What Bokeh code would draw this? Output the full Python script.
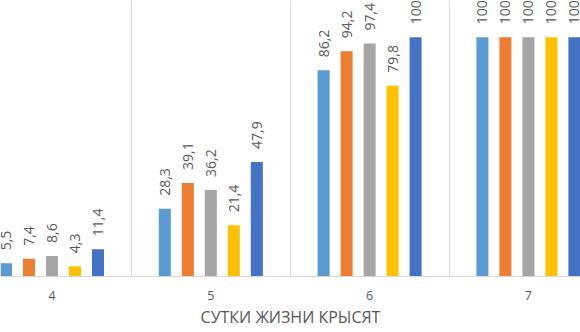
from math import pi
from bokeh.plotting import figure
from bokeh.models import ColumnDataSource, LabelSet, FixedTicker, Range1d
from bokeh.core.properties import value
from bokeh.transform import dodge
from bokeh.embed import file_html
from bokeh.resources import INLINE

# ---- data ----
days = ["4", "5", "6", "7"]
series_1 = [5.5, 28.3, 86.2, 100]
series_2 = [7.4, 39.1, 94.2, 100]
series_3 = [8.6, 36.2, 97.4, 100]
series_4 = [4.3, 21.4, 79.8, 100]
series_5 = [11.4, 47.9, 100, 100]
x_title = "СУТКИ ЖИЗНИ КРЫСЯТ"

all_series = [series_1, series_2, series_3, series_4, series_5]
colors = ["#5B9BD5", "#ED7D31", "#A5A5A5", "#FFC000", "#4472C4"]

FONT = "Open Sans"
TXT = "#595959"
GRID = "#D9D9D9"

idx = list(range(len(days)))

p = figure(width=580, height=332, output_backend="svg", toolbar_location=None,
           x_range=Range1d(-0.3243, 3.328), y_range=Range1d(0, 115.4),
           y_axis_location=None, min_border=0, min_border_bottom=56)
p.outline_line_color = None
p.background_fill_color = "white"
p.border_fill_color = "white"

step = 0.1448
bw = 0.0756
offsets = [-2 * step, -step, 0, step, 2 * step]

for vals, col, off in zip(all_series, colors, offsets):
    src = ColumnDataSource(dict(
        x=idx, top=vals,
        label=[("%g" % v).replace(".", ",") for v in vals]))
    p.vbar(x=dodge("x", off, range=p.x_range), top="top", bottom=0, width=bw,
           source=src, fill_color=col, line_color=None)
    labels = LabelSet(x=dodge("x", off, range=p.x_range), y="top", text="label",
                      source=src, angle=pi / 2, text_align="left",
                      text_baseline="middle", y_offset=13,
                      text_font=value(FONT), text_font_size="14px",
                      text_color=TXT)
    p.add_layout(labels)

p.ygrid.visible = False
p.xgrid.ticker = FixedTicker(ticks=[i + 0.5 for i in idx[:-1]])
p.xgrid.grid_line_color = GRID
p.xgrid.grid_line_width = 1

ax = p.xaxis[0]
ax.ticker = FixedTicker(ticks=idx)
ax.major_label_overrides = {i: d for i, d in zip(idx, days)}
ax.axis_line_color = GRID
ax.axis_line_width = 1
ax.major_tick_line_color = None
ax.minor_tick_line_color = None
ax.major_tick_out = 0
ax.major_tick_in = 0
ax.major_label_standoff = 14
ax.major_label_text_font = FONT
ax.major_label_text_font_size = "12.5px"
ax.major_label_text_color = TXT
ax.axis_label = x_title
ax.axis_label_text_font = FONT
ax.axis_label_text_font_size = "16px"
ax.axis_label_text_font_style = "normal"
ax.axis_label_text_color = TXT
ax.axis_label_standoff = 3

open("out.html", "w").write(file_html(p, INLINE))
